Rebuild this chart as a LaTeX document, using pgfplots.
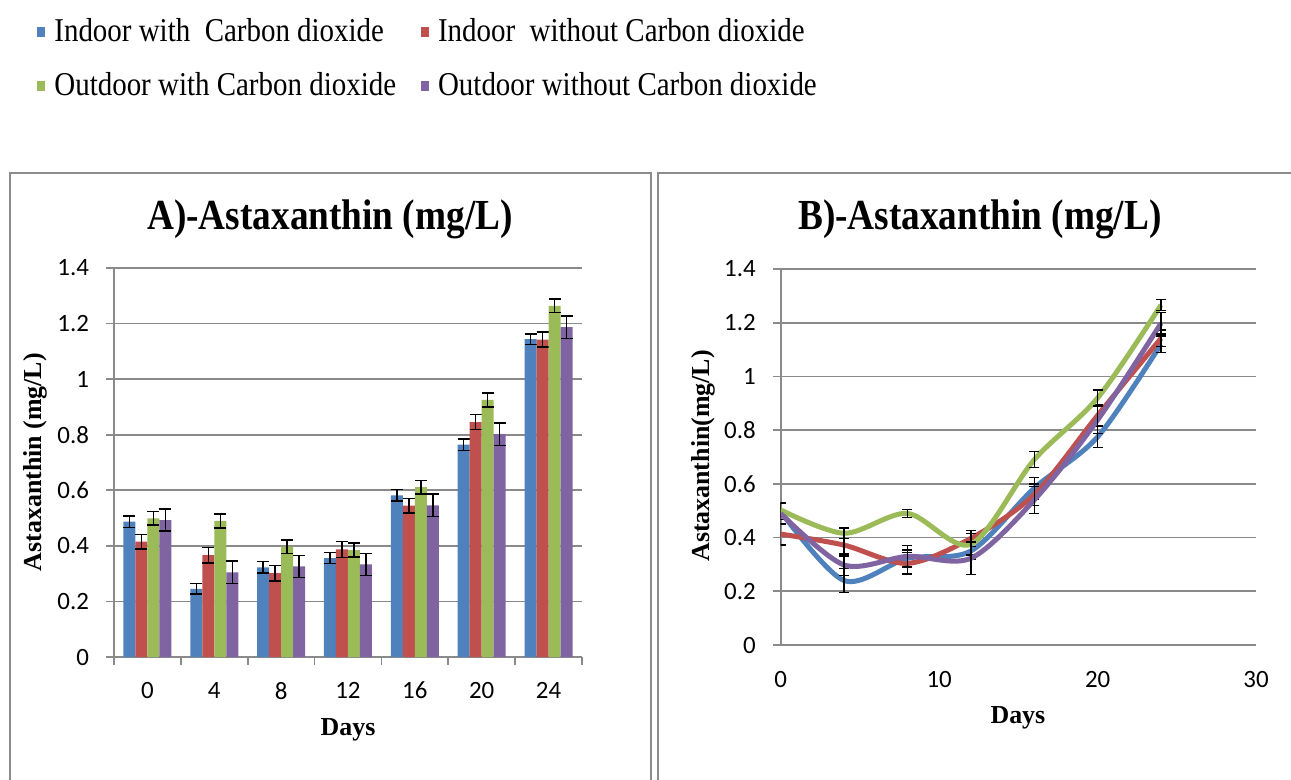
\documentclass[border=0pt]{standalone}
\usepackage{fontspec}
\setmainfont{Liberation Serif}
\newfontfamily\carlito{Carlito}
\newfontfamily\condserif{Liberation Serif}[FakeStretch=0.87]
\usepackage{pgfplots}
\pgfplotsset{compat=1.18}
\definecolor{cblue}{HTML}{4F81BD}
\definecolor{cred}{HTML}{C0504D}
\definecolor{cgreen}{HTML}{9BBB59}
\definecolor{cpurple}{HTML}{8064A2}
\definecolor{gridgray}{HTML}{8A8A8A}
\definecolor{framegray}{HTML}{8C8C8C}
\pgfplotsset{
  common/.style={
    scale only axis,
    ymin=0, ymax=1.4,
    ytick={0,0.2,0.4,0.6,0.8,1,1.2,1.4},
    axis lines=left,
    axis line style={-, draw=gridgray, line width=0.8bp},
    ymajorgrids,
    grid style={draw=gridgray, line width=0.8bp},
    tick align=outside,
    tick style={draw=gridgray, line width=0.8bp},
    major tick length=4bp,
    ticklabel style={font=\carlito\fontsize{12.5}{15}\selectfont, text=black},
    yticklabel style={xshift=-5bp},
    /pgf/number format/assume math mode=true,
    title style={font=\condserif\bfseries\fontsize{21.5}{25}\selectfont, anchor=center},
    label style={font=\bfseries\fontsize{13}{15}\selectfont, anchor=center},
    error bars/y dir=both,
    error bars/y explicit,
    error bars/error bar style={draw=black, solid, line width=0.75bp},
  }
}
\begin{document}
\begin{tikzpicture}
\useasboundingbox (0,0) rectangle (645.5bp,-390bp);
\begin{scope}[x=0.5bp,y=-0.5bp]
\draw[framegray, line width=1bp] (10,780) -- (10,172.7) -- (651,172.7) -- (651,780);
\draw[framegray, line width=1bp] (657.7,780) -- (657.7,172.7) -- (1291,172.7);
\end{scope}

% Panel A
\begin{axis}[common,
  at={(57bp,-328.5bp)}, anchor=south west,
  width=234bp, height=194.5bp,
  xmin=-0.5, xmax=6.5,
  xtick={-0.5,0.5,1.5,2.5,3.5,4.5,5.5,6.5},
  xticklabels={,,,,,,,},
  extra x ticks={0,1,2,3,4,5,6},
  extra x tick labels={0,4,8,12,16,20,24},
  extra x tick style={major tick length=0pt, xticklabel style={yshift=-9bp}},
  ybar=0pt, bar width=6bp,
  error bars/error mark options={rotate=90, black, line width=0.75bp, mark size=3bp},
  title={A)-Astaxanthin (mg/L)},
  title style={at={(0.4615,1.095)}},
  xlabel={Days},
  xlabel style={at={(0.5,-0.1877)}},
  ylabel={Astaxanthin (mg/L)},
  ylabel style={at={(-0.1688,0.501)}},
  legend columns=2,
  legend cell align=left,
  legend image code/.code={\fill[#1] (0bp,-2.5bp) rectangle (4bp,2.5bp); \path (6.5bp,0bp);},
  legend style={at={(-0.1645,1.652)}, anchor=north west, draw=none, fill=none,
    font=\condserif\fontsize{16.7}{19}\selectfont, inner sep=0pt, row sep=10bp,
    /tikz/every even column/.append style={column sep=10.5bp}},
]
\addplot[fill=cblue, draw=none] coordinates {
 (0,0.487) +- (0,0.02) (1,0.245) +- (0,0.019) (2,0.323) +- (0,0.02)
 (3,0.356) +- (0,0.02) (4,0.582) +- (0,0.02) (5,0.764) +- (0,0.02)
 (6,1.144) +- (0,0.019)};
\addlegendentry{Indoor with\ \ Carbon dioxide}
\addplot[fill=cred, draw=none] coordinates {
 (0,0.415) +- (0,0.026) (1,0.367) +- (0,0.028) (2,0.302) +- (0,0.028)
 (3,0.387) +- (0,0.028) (4,0.545) +- (0,0.026) (5,0.845) +- (0,0.027)
 (6,1.142) +- (0,0.027)};
\addlegendentry{Indoor\ \ without Carbon dioxide}
\addplot[fill=cgreen, draw=none] coordinates {
 (0,0.499) +- (0,0.024) (1,0.490) +- (0,0.025) (2,0.397) +- (0,0.025)
 (3,0.385) +- (0,0.025) (4,0.611) +- (0,0.024) (5,0.925) +- (0,0.025)
 (6,1.264) +- (0,0.025)};
\addlegendentry{Outdoor with Carbon dioxide}
\addplot[fill=cpurple, draw=none] coordinates {
 (0,0.493) +- (0,0.04) (1,0.305) +- (0,0.041) (2,0.326) +- (0,0.04)
 (3,0.333) +- (0,0.04) (4,0.546) +- (0,0.04) (5,0.802) +- (0,0.04)
 (6,1.187) +- (0,0.04)};
\addlegendentry{Outdoor without Carbon dioxide}
\end{axis}

% Panel B
\begin{axis}[common,
  at={(390.35bp,-322.5bp)}, anchor=south west,
  width=237.7bp, height=188bp,
  xmin=0, xmax=30,
  xtick=\empty,
  extra x ticks={0,10,20,30},
  extra x tick style={major tick length=0pt, xticklabel style={yshift=-9.5bp}},
  error bars/error mark options={rotate=90, black, line width=0.75bp, mark size=2.5bp},
  title={B)-Astaxanthin (mg/L)},
  title style={at={(0.419,1.10)}},
  xlabel={Days},
  xlabel style={at={(0.499,-0.194)}},
  ylabel={Astaxanthin(mg/L)},
  ylabel style={at={(-0.1635,0.503)}},
]
\addplot[cblue, line width=2.5bp, smooth, tension=0.5, mark=none] coordinates {
 (0,0.497) +- (0,0.03) (4,0.240) +- (0,0.045) (8,0.323) +- (0,0.03)
 (12,0.350) +- (0,0.03) (16,0.584) +- (0,0.04) (20,0.775) +- (0,0.04)
 (24,1.120) +- (0,0.03)};
\addplot[cred, line width=2.5bp, smooth, tension=0.5, mark=none] coordinates {
 (0,0.413) +- (0,0.04) (4,0.372) +- (0,0.04) (8,0.304) +- (0,0.04)
 (12,0.397) +- (0,0.03) (16,0.560) +- (0,0.04) (20,0.855) +- (0,0.04)
 (24,1.142) +- (0,0.03)};
\addplot[cgreen, line width=2.5bp, smooth, tension=0.5, mark=none] coordinates {
 (0,0.503) +- (0,0.025) (4,0.416) +- (0,0.02) (8,0.490) +- (0,0.015)
 (12,0.375) +- (0,0.04) (16,0.690) +- (0,0.03) (20,0.920) +- (0,0.03)
 (24,1.266) +- (0,0.02)};
\addplot[cpurple, line width=2.5bp, smooth, tension=0.5, mark=none] coordinates {
 (0,0.490) +- (0,0.04) (4,0.298) +- (0,0.04) (8,0.330) +- (0,0.04)
 (12,0.323) +- (0,0.06) (16,0.540) +- (0,0.05) (20,0.838) +- (0,0.05)
 (24,1.198) +- (0,0.04)};
\end{axis}
\end{tikzpicture}
\end{document}
